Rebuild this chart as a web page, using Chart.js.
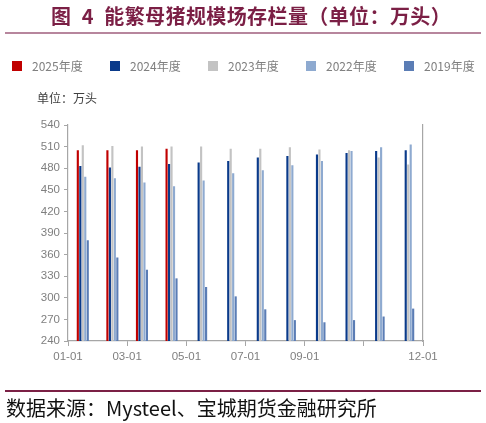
<!DOCTYPE html>
<html>
<head>
<meta charset="utf-8">
<script src="https://cdn.jsdelivr.net/npm/chart.js@4/dist/chart.umd.min.js"></script>
<style>
  html, body { margin: 0; padding: 0; background: #fff; }
  body { width: 486px; height: 423px; position: relative; overflow: hidden; font-family: "Noto Sans CJK SC", sans-serif; }
  #chart { position: absolute; left: 0; top: 0; }
  .title { position: absolute; left: 8px; top: 3px; width: 486px; text-align: center; font-size: 20px; font-weight: bold; color: #7b1f45; letter-spacing: 0.4px; line-height: 26px; }
  .rule-top { position: absolute; left: 5px; top: 32px; width: 476px; height: 2px; background: #b7869d; }
  .rule-bottom { position: absolute; left: 5px; top: 390px; width: 476px; height: 1.5px; background: #7b2045; }
  .source { position: absolute; left: 6px; top: 395px; font-size: 20px; line-height: 26px; color: #111; white-space: nowrap; }
  .unit { position: absolute; left: 37px; top: 90px; font-size: 12px; line-height: 16px; color: #404040; }
  .legend-item { position: absolute; top: 58px; height: 16px; font-size: 12px; line-height: 16px; color: #7f7f7f; white-space: nowrap; }
  .legend-item i { position: absolute; left: 0; top: 3px; width: 10px; height: 10px; }
  .legend-item span { position: absolute; left: 20px; top: 0; }
</style>
</head>
<body>
<canvas id="chart" width="486" height="423"></canvas>
<div class="title">图&ensp;4&ensp;能繁母猪规模场存栏量（单位：万头）</div>
<div class="rule-top"></div>
<div id="legend"></div>
<div class="unit">单位：万头</div>
<div class="rule-bottom"></div>
<div class="source">数据来源：Mysteel、宝城期货金融研究所</div>
<script>
const months = ['01', '02', '03', '04', '05', '06', '07', '08', '09', '10', '11', '12'];
const xTickLabels = ['01-01', '03-01', '05-01', '07-01', '09-01', '', '12-01'];

const series2025 = [505, 505, 505, 507, null, null, null, null, null, null, null, null];
const series2024 = [483, 481, 482, 486, 488, 490, 495, 497, 499, 501, 504, 505];
const series2023 = [512, 511, 510, 510, 510, 507, 507, 509, 506, 505, 495, 485];
const series2022 = [468, 466, 460, 455, 463, 473, 477, 484, 490, 504, 509, 513];
const series2019 = [380, 356, 339, 327, 315, 302, 284, 269, 266, 269, 274, 285];

const AXIS_GRAY = '#a6a6a6';
const TICK_FONT = { family: '"Liberation Sans", Arial, sans-serif', size: 11.5 };

function makeSet(label, data, color) {
  return { label, data, backgroundColor: color, borderWidth: 0, xAxisID: 'x', yAxisID: 'y',
    categoryPercentage: 0.42, barPercentage: 0.86 };
}

const datasets = [
  makeSet('2025年度', series2025, '#c00000'),
  makeSet('2024年度', series2024, '#0a3a8a'),
  makeSet('2023年度', series2023, '#c3c3c3'),
  makeSet('2022年度', series2022, '#8eaad0'),
  makeSet('2019年度', series2019, '#5b7db5')
];

const chart = new Chart(document.getElementById('chart').getContext('2d'), {
  type: 'bar',
  data: { labels: months, datasets },
  options: {
    responsive: false,
    animation: false,
    layout: { padding: { top: 125, bottom: 57, left: 0, right: 0 } },
    plugins: { legend: { display: false }, tooltip: { enabled: false } },
    scales: {
      x: { display: false, offset: true },
      // month boundaries, labelled like the original date axis
      xt: {
        type: 'linear', position: 'bottom', min: 0, max: 12, offset: false,
        afterFit: s => { s.height = 25; },
        ticks: { stepSize: 2, autoSkip: false, maxRotation: 0, color: '#7f7f7f', font: TICK_FONT, padding: 4,
          callback: (v, i) => xTickLabels[i] },
        grid: { offset: false, drawOnChartArea: false, drawTicks: true, tickLength: 5, color: AXIS_GRAY },
        border: { display: true, color: AXIS_GRAY, width: 1.2 }
      },
      y: {
        min: 240, max: 540,
        afterFit: s => { s.width = 68; },
        ticks: { stepSize: 30, color: '#7f7f7f', font: TICK_FONT, padding: 4 },
        grid: { drawOnChartArea: false, drawTicks: true, tickLength: 4, color: AXIS_GRAY },
        border: { display: true, color: AXIS_GRAY, width: 1.2 }
      },
      y2: {
        position: 'right', min: 240, max: 540,
        afterFit: s => { s.width = 63; },
        ticks: { display: false },
        grid: { drawOnChartArea: false, drawTicks: false },
        border: { display: true, color: AXIS_GRAY, width: 1.2 }
      }
    }
  }
});

// legend built from the chart's own datasets, spread evenly like the original
const legend = document.getElementById('legend');
chart.data.datasets.forEach((ds, i) => {
  const item = document.createElement('div');
  item.className = 'legend-item';
  item.style.left = (12 + i * 98) + 'px';
  item.innerHTML = `<i style="background:${ds.backgroundColor}"></i><span>${ds.label}</span>`;
  legend.appendChild(item);
});
</script>
</body>
</html>
